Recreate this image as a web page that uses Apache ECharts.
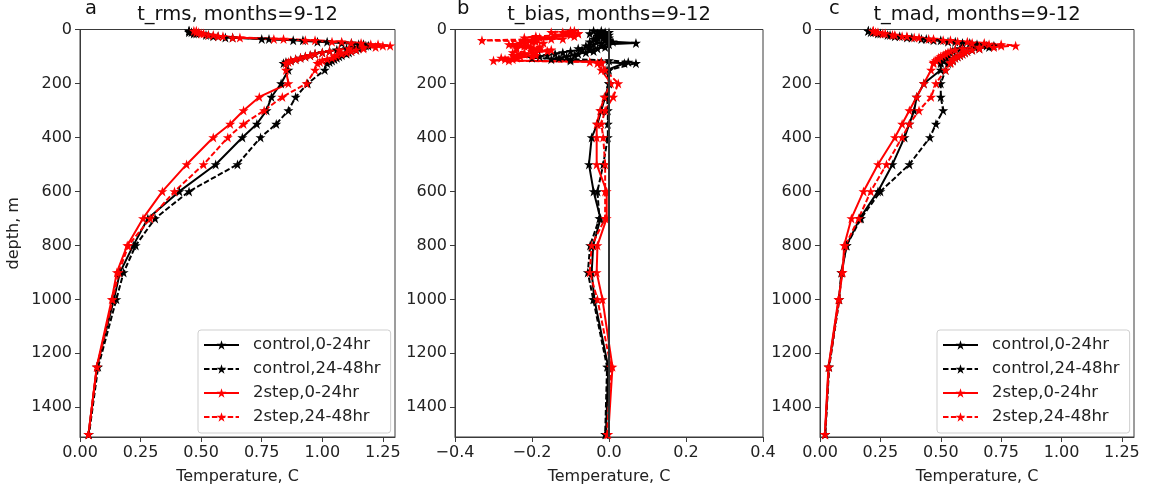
<!DOCTYPE html>
<html>
<head>
<meta charset="utf-8">
<script src="https://cdn.jsdelivr.net/npm/echarts@6/dist/echarts.min.js"></script>
<style>
  html, body { margin: 0; padding: 0; background: #fff; }
  #chart { width: 1150px; height: 490px; }
</style>
</head>
<body>
<div id="chart"></div>
<script>
// Depth levels (m)
const depth = [5,10,15,20,25, 30,35,40,45,50, 55,60,65,70,75, 80,85,90,95,100,
               105,110,115,120,125, 150,200,250,300,350, 400,500,600,700,800,
               900,1000,1250,1500];

// Panel a: t_rms
const rmsCtl0 = [0.45,0.45,0.47,0.52,0.55, 0.60,0.75,0.88,0.98,1.08, 1.15,1.18,1.13,1.10,1.06,
                 1.03,1.00,0.97,0.95,0.93, 0.91,0.89,0.87,0.85,0.84, 0.86,0.83,0.79,0.77,0.73,
                 0.67,0.56,0.41,0.28,0.22, 0.165,0.14,0.07,0.035];
const rmsCtl24 = [0.45,0.46,0.48,0.53,0.57, 0.63,0.78,0.92,1.02,1.12, 1.17,1.19,1.17,1.15,1.14,
                  1.12,1.11,1.10,1.08,1.07, 1.06,1.05,1.04,1.03,1.02, 1.01,0.94,0.89,0.86,0.81,
                  0.745,0.65,0.45,0.31,0.23, 0.18,0.15,0.075,0.037];
const rms2s0 = [0.48,0.48,0.50,0.53,0.57, 0.63,0.80,0.93,1.04,1.12, 1.20,1.25,1.17,1.11,1.07,
                1.03,1.00,0.97,0.95,0.93, 0.91,0.89,0.87,0.86,0.85, 0.85,0.86,0.74,0.675,0.62,
                0.55,0.44,0.34,0.26,0.195, 0.152,0.131,0.069,0.035];
const rms2s24 = [0.47,0.49,0.51,0.55,0.59, 0.66,0.84,0.97,1.08,1.16, 1.23,1.28,1.22,1.17,1.14,
                 1.12,1.10,1.08,1.06,1.05, 1.04,1.02,1.00,0.99,0.98, 0.97,0.935,0.835,0.76,0.675,
                 0.61,0.51,0.39,0.29,0.20, 0.16,0.135,0.07,0.035];

// Panel b: t_bias
const biasCtl0 = [-0.04,-0.01,-0.03,0.0,-0.01, -0.03,-0.01,0.0,0.01,0.07, 0.0,-0.02,-0.01,-0.03,-0.05,
                  -0.04,-0.06,-0.08,-0.09,-0.11, -0.13,-0.15,-0.10,-0.02,0.04, -0.005,0.0,-0.01,-0.02,-0.03,
                  -0.045,-0.052,-0.04,-0.022,-0.041, -0.045,-0.038,-0.002,-0.008];
const biasCtl24 = [-0.02,0.0,-0.05,-0.02,-0.03, 0.0,-0.04,-0.01,-0.05,-0.02, -0.04,-0.06,-0.05,-0.08,-0.07,
                   -0.10,-0.12,-0.14,-0.16,-0.18, -0.20,-0.10,0.0,0.05,0.07, 0.0,0.0,-0.005,-0.003,-0.003,
                   -0.003,-0.015,-0.03,-0.025,-0.049, -0.055,-0.041,-0.005,-0.01];
const bias2s0 = [-0.10,-0.12,-0.08,-0.14,-0.09, -0.18,-0.15,-0.22,-0.19,-0.23, -0.25,-0.21,-0.24,-0.18,-0.20,
                 -0.16,-0.19,-0.22,-0.25,-0.20, -0.24,-0.27,-0.26,-0.02,-0.03, -0.02,0.005,-0.012,-0.023,-0.032,
                 -0.032,-0.032,-0.006,-0.006,-0.03, -0.032,-0.017,0.009,-0.002];
const bias2s24 = [-0.09,-0.15,-0.08,-0.10,-0.19, -0.22,-0.12,-0.33,-0.20,-0.17, -0.26,-0.22,-0.18,-0.24,-0.15,
                  -0.20,-0.25,-0.22,-0.19,-0.23, -0.28,-0.25,-0.30,-0.05,-0.02, -0.01,0.024,0.011,-0.01,-0.02,
                  -0.015,-0.01,-0.01,-0.01,-0.045, -0.05,-0.03,0.005,-0.005];

// Panel c: t_mad
const madCtl0 = [0.20,0.21,0.24,0.28,0.31, 0.36,0.42,0.47,0.53,0.59, 0.65,0.69,0.64,0.58,0.56,
                 0.55,0.54,0.53,0.53,0.52, 0.52,0.51,0.51,0.50,0.50, 0.50,0.43,0.40,0.39,0.37,
                 0.35,0.30,0.24,0.165,0.11, 0.09,0.078,0.036,0.021];
const madCtl24 = [0.20,0.22,0.25,0.29,0.33, 0.38,0.44,0.50,0.56,0.62, 0.68,0.72,0.70,0.66,0.63,
                  0.61,0.60,0.59,0.58,0.57, 0.56,0.55,0.55,0.54,0.53, 0.52,0.50,0.50,0.51,0.48,
                  0.455,0.37,0.25,0.17,0.11, 0.088,0.08,0.038,0.022];
const mad2s0 = [0.22,0.23,0.26,0.30,0.34, 0.39,0.45,0.51,0.57,0.63, 0.70,0.75,0.66,0.59,0.56,
                0.54,0.53,0.52,0.51,0.50, 0.49,0.49,0.48,0.47,0.47, 0.46,0.43,0.40,0.37,0.34,
                0.31,0.24,0.18,0.13,0.10, 0.094,0.076,0.035,0.02];
const mad2s24 = [0.22,0.24,0.27,0.31,0.36, 0.41,0.47,0.54,0.61,0.68, 0.75,0.81,0.72,0.66,0.63,
                 0.61,0.60,0.59,0.58,0.57, 0.56,0.55,0.55,0.54,0.54, 0.52,0.48,0.46,0.41,0.37,
                 0.34,0.275,0.21,0.16,0.105, 0.09,0.08,0.037,0.021];

const seriesNames = ['control,0-24hr', 'control,24-48hr', '2step,0-24hr', '2step,24-48hr'];
const panelTitles = ['t_rms, months=9-12', 't_bias, months=9-12', 't_mad, months=9-12'];
const panelLetters = ['a', 'b', 'c'];
const depthTicks = [0, 200, 400, 600, 800, 1000, 1200, 1400];
const tempTicksAC = [0, 0.25, 0.5, 0.75, 1.0, 1.25];
const tempTicksB = [-0.4, -0.2, 0, 0.2, 0.4];

const FONT = 'DejaVu Sans';
const STAR = 'path://M50,0 L61.2,34.5 L97.6,34.5 L68.2,55.9 L79.4,90.5 L50,69.1 L20.6,90.5 L31.8,55.9 L2.4,34.5 L38.8,34.5 Z';
const AXIS_COLOR = '#3a3a3a';
const TEXT_COLOR = '#222';

const grids = [
  { left: 80,  top: 29.5, width: 315, height: 412 },
  { left: 455, top: 29.5, width: 308, height: 412 },
  { left: 820, top: 29.5, width: 314, height: 412 }
];

function pairs(vals) { return vals.map((v, i) => [v, depth[i]]); }

function fmtTemp(digits) {
  return function (v) {
    if (Math.abs(v) < 1e-9) return (0).toFixed(digits);
    return v < 0 ? '\u2212' + Math.abs(v).toFixed(digits) : v.toFixed(digits);
  };
}

function xAxisFor(i, min, max, ticks, digits) {
  return {
    gridIndex: i, type: 'value', min: min, max: max,
    name: 'Temperature, C', nameLocation: 'middle', nameGap: 32,
    nameTextStyle: { fontFamily: FONT, fontSize: 16, color: TEXT_COLOR },
    axisLine: { show: true, onZero: false, lineStyle: { color: AXIS_COLOR, width: 1 } },
    axisTick: { show: true, length: 5, customValues: ticks, lineStyle: { color: AXIS_COLOR, width: 1 } },
    axisLabel: { customValues: ticks, formatter: fmtTemp(digits), margin: 8,
                 fontFamily: FONT, fontSize: 16, color: TEXT_COLOR },
    splitLine: { show: false }
  };
}

function yAxisFor(i, withName) {
  return {
    gridIndex: i, type: 'value', inverse: true, min: 0, max: 1510,
    name: withName ? 'depth, m' : '', nameLocation: 'middle', nameGap: 58,
    nameTextStyle: { fontFamily: FONT, fontSize: 16, color: TEXT_COLOR },
    axisLine: { show: true, onZero: false, lineStyle: { color: AXIS_COLOR, width: 1 } },
    axisTick: { show: true, length: 5, customValues: depthTicks, lineStyle: { color: AXIS_COLOR, width: 1 } },
    axisLabel: { customValues: depthTicks, formatter: v => String(Math.round(v)), margin: 8,
                 fontFamily: FONT, fontSize: 16, color: TEXT_COLOR },
    splitLine: { show: false }
  };
}

function line(name, vals, idx, color, dashed) {
  return {
    name: name, type: 'line', xAxisIndex: idx, yAxisIndex: idx,
    data: pairs(vals),
    symbol: STAR, symbolSize: 10, showSymbol: true, showAllSymbol: true,
    lineStyle: { color: color, width: 2, type: dashed ? [5.5, 2.4] : 'solid' },
    itemStyle: { color: color, borderWidth: 0 },
    emphasis: { disabled: true },
    z: 3
  };
}

const panelData = [
  [rmsCtl0, rmsCtl24, rms2s0, rms2s24],
  [biasCtl0, biasCtl24, bias2s0, bias2s24],
  [madCtl0, madCtl24, mad2s0, mad2s24]
];
const colors = ['#000000', '#000000', '#ff0000', '#ff0000'];
const dashes = [false, true, false, true];

const series = [];
panelData.forEach((arrs, p) => {
  arrs.forEach((vals, k) => {
    series.push(line(seriesNames[k], vals, p, colors[k], dashes[k]));
  });
});

// zero reference line in the bias panel
series.push({
  type: 'line', xAxisIndex: 1, yAxisIndex: 1, data: [], silent: true,
  markLine: {
    silent: true, symbol: 'none', label: { show: false }, animation: false,
    lineStyle: { color: '#333', width: 2, type: 'solid' },
    data: [{ xAxis: 0 }]
  },
  z: 2
});

function legendAt(left) {
  return {
    data: seriesNames, orient: 'vertical', left: left, top: 330,
    itemWidth: 35, itemHeight: 12, itemGap: 4,
    padding: [5, 10, 6, 5],
    backgroundColor: 'rgba(255,255,255,0.85)',
    borderColor: '#cfcfcf', borderWidth: 1, borderRadius: 3,
    selectedMode: false,
    textStyle: { fontFamily: FONT, fontSize: 16.5, color: TEXT_COLOR, lineHeight: 20, padding: [0, 0, 0, 9] }
  };
}

const titles = [];
grids.forEach((g, i) => {
  titles.push({
    text: panelTitles[i], left: g.left + g.width / 2, top: 5, textAlign: 'center', padding: 0,
    textStyle: { fontFamily: FONT, fontSize: 19.5, fontWeight: 'normal', color: '#111' }
  });
});
const letterLeft = [85, 457, 829];
letterLeft.forEach((x, i) => {
  titles.push({
    text: panelLetters[i], left: x, top: -1, padding: 0,
    textStyle: { fontFamily: FONT, fontSize: 19.5, fontWeight: 'normal', color: '#111' }
  });
});

const chart = echarts.init(document.getElementById('chart'), null, { renderer: 'canvas' });
chart.setOption({
  backgroundColor: '#ffffff',
  animation: false,
  title: titles,
  grid: grids.map(g => Object.assign({ show: true, borderColor: AXIS_COLOR, borderWidth: 1, backgroundColor: 'transparent' }, g)),
  xAxis: [
    xAxisFor(0, 0, 1.3, tempTicksAC, 2),
    xAxisFor(1, -0.4, 0.4, tempTicksB, 1),
    xAxisFor(2, 0, 1.3, tempTicksAC, 2)
  ],
  yAxis: [yAxisFor(0, true), yAxisFor(1, false), yAxisFor(2, false)],
  legend: [legendAt(198), legendAt(937)],
  series: series
});
</script>
</body>
</html>
